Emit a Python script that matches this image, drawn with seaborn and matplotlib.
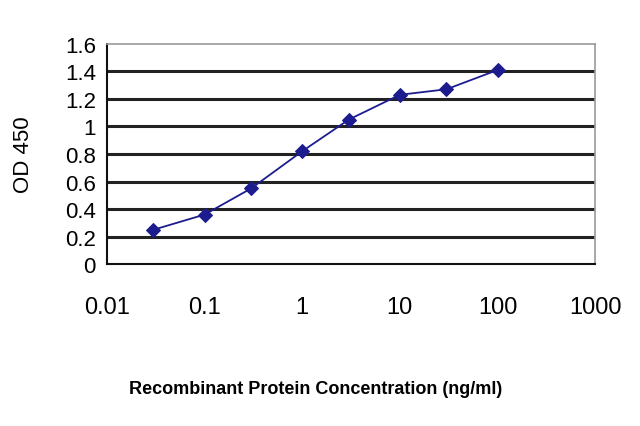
import numpy as np
import pandas as pd
import seaborn as sns
import matplotlib
matplotlib.use("Agg")
import matplotlib.pyplot as plt

# datos
concentration = [0.03, 0.1, 0.3, 1, 3, 10, 30, 100]
od450 = [0.25, 0.36, 0.55, 0.82, 1.05, 1.23, 1.27, 1.41]
x_ticks = [0.01, 0.1, 1, 10, 100, 1000]
x_labels = ["0.01", "0.1", "1", "10", "100", "1000"]
y_ticks = [0, 0.2, 0.4, 0.6, 0.8, 1, 1.2, 1.4, 1.6]
y_labels = ["0", "0.2", "0.4", "0.6", "0.8", "1", "1.2", "1.4", "1.6"]

df = pd.DataFrame({"conc": concentration, "od": od450})

sns.set_style("white")
plt.rcParams['font.family'] = ['Liberation Sans', 'DejaVu Sans']
plt.rcParams['text.color'] = "black"
plt.rcParams['xtick.color'] = "black"
plt.rcParams['ytick.color'] = "black"
plt.rcParams['axes.labelcolor'] = "black"

fig = plt.figure(figsize=(6.4, 4.27), dpi=100)
ax = fig.add_axes([0.167, 0.379, 0.763, 0.516])

# lineas de la rejilla
for yv in y_ticks[1:-1]:
    ax.axhline(yv, color="#222222", lw=2.2, zorder=1)

sns.lineplot(data=df, x="conc", y="od", ax=ax, color="#1c1c8f", lw=1.3,
             marker="D", markersize=7, markeredgecolor="#1c1c8f", zorder=3)

ax.set_xscale("log")
ax.set_xlim(0.01, 1000)
ax.set_ylim(0, 1.6)
ax.set_xticks(x_ticks)
ax.set_xticklabels(x_labels, fontsize=17)
ax.set_yticks(y_ticks)
ax.set_yticklabels(y_labels, fontsize=16)
ax.minorticks_off()
ax.tick_params(axis="x", direction="inout", length=6, width=1.2, pad=20)
ax.tick_params(axis="y", length=0, pad=8)

for side in ["left", "bottom"]:
    ax.spines[side].set_color("#111111")
    ax.spines[side].set_linewidth(1.5)
for side in ["top", "right"]:
    ax.spines[side].set_color("#999999")
    ax.spines[side].set_linewidth(1.2)

ax.set_xlabel("Recombinant Protein Concentration (ng/ml)", fontsize=13,
              fontweight="bold")
ax.xaxis.set_label_coords(0.428, -0.525)
ax.set_ylabel("OD 450", fontsize=16, labelpad=22)

fig.savefig("out.png", dpi=100)
